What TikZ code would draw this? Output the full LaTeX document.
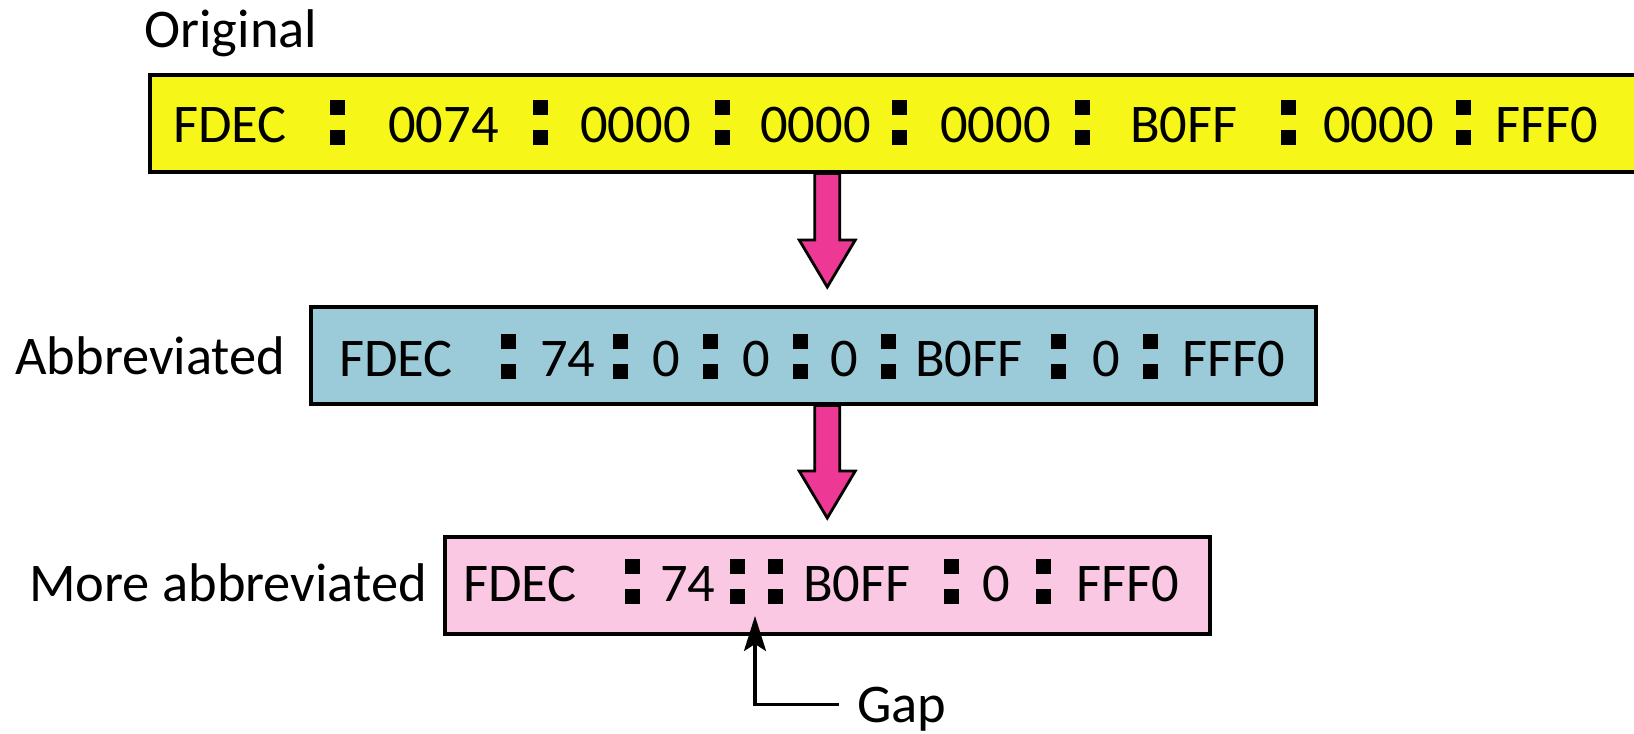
\documentclass[tikz,border=0pt]{standalone}
\usepackage{fontspec}
\setmainfont{Carlito}
\usepackage{tikz}
\usetikzlibrary{calc,arrows.meta}

\definecolor{hexyellow}{RGB}{246,246,24}
\definecolor{hexblue}{RGB}{155,203,217}
\definecolor{hexpink}{RGB}{250,200,226}
\definecolor{arrowpink}{RGB}{238,56,150}

\begin{document}
\begin{tikzpicture}[x=0.2mm, y=-0.2mm,
    every node/.style={font=\fontsize{31}{36}\selectfont},
    addrbox/.style={draw=black, line width=2pt, anchor=north west, inner sep=0pt, minimum height=19.4mm},
    hexnum/.style={anchor=base west, inner sep=0pt},
    rowlabel/.style={anchor=base west, inner sep=0pt},
    fatarrow/.style={draw=black, line width=1.6pt, fill=arrowpink, line join=miter},
    gaparrow/.style={line width=2pt, -{Stealth[length=7mm, width=4.4mm, inset=1.4mm]}}]
    \useasboundingbox (0,0) rectangle (1634,734);

    % Cajas
    \node[addrbox, fill=hexyellow, minimum width=298.4mm] (ybox) at (148,73) {};
    \node[addrbox, fill=hexblue, minimum width=201mm] (bbox) at (309,305) {};
    \node[addrbox, fill=hexpink, minimum width=153mm] (pbox) at (443,535) {};

    % Etiquetas
    \node[rowlabel] (orig) at (144,47) {Original};
    \node[rowlabel] (abbr) at (15,374) {Abbreviated};
    \node[rowlabel] (more) at (29,601) {More abbreviated};

    % Original
    \foreach \x/\t [count=\i] in {173/FDEC, 388/0074, 580/0000, 760/0000, 940/0000, 1130/B0FF, 1323/0000, 1495/FFF0}
        \node[hexnum] (yt\i) at (\x,142) {\t};
    \foreach \x in {337,540,722,899,1082,1288,1463} {
        \fill (\x-7.5,100) rectangle ++(15,15);
        \fill (\x-7.5,130) rectangle ++(15,15);
    }

    % Abreviada
    \foreach \x/\t [count=\i] in {339/FDEC, 540/74, 652/0, 742/0, 830/0, 915/B0FF, 1092/0, 1182/FFF0}
        \node[hexnum] (bt\i) at (\x,376) {\t};
    \foreach \x in {508,620,710,800,888,1058,1150} {
        \fill (\x-7.5,334) rectangle ++(15,15);
        \fill (\x-7.5,364) rectangle ++(15,15);
    }

    % Más abreviada
    \foreach \x/\t [count=\i] in {463/FDEC, 660/74, 803/B0FF, 982/0, 1076/FFF0}
        \node[hexnum] (pt\i) at (\x,601) {\t};
    \foreach \x in {632,737,775,951,1043} {
        \fill (\x-7.5,559) rectangle ++(15,15);
        \fill (\x-7.5,589) rectangle ++(15,15);
    }

    % Flechas
    \coordinate (s1) at (ybox.south -| pbox.north);
    \coordinate (t1) at ($(bbox.north -| pbox.north)+(0,-18)$);
    \draw[fatarrow] ($(s1)+(-12.5,0)$) -- ($(t1)+(-12.5,-47)$) -- ($(t1)+(-28,-47)$) -- (t1)
        -- ($(t1)+(28,-47)$) -- ($(t1)+(12.5,-47)$) -- ($(s1)+(12.5,0)$) -- cycle;
    \coordinate (s2) at (bbox.south -| pbox.north);
    \coordinate (t2) at ($(pbox.north)+(0,-17)$);
    \draw[fatarrow] ($(s2)+(-12.5,0)$) -- ($(t2)+(-12.5,-47)$) -- ($(t2)+(-28,-47)$) -- (t2)
        -- ($(t2)+(28,-47)$) -- ($(t2)+(12.5,-47)$) -- ($(s2)+(12.5,0)$) -- cycle;

    % Hueco
    \node[rowlabel, text depth=0pt] (gap) at (857,722) {Gap};
    \coordinate (gaptip) at (755,616);
    \draw[gaparrow, shorten <=3.6mm] (gap.west) -| (gaptip);
\end{tikzpicture}
\end{document}
